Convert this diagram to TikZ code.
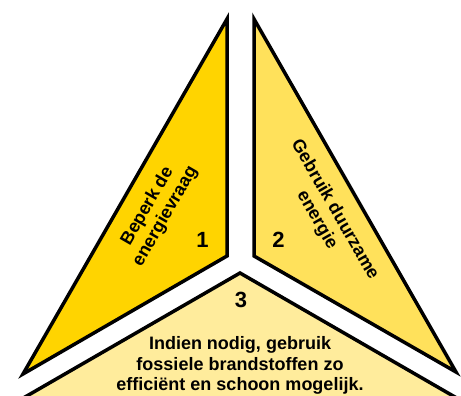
\documentclass[tikz,border=0pt]{standalone}
\usepackage{fontspec}
\setmainfont{Liberation Sans}
\definecolor{pieceA}{HTML}{FFD400}
\definecolor{pieceB}{HTML}{FFE15B}
\definecolor{pieceC}{HTML}{FFEC9C}
\begin{document}
\begin{tikzpicture}[x=1pt,y=-1pt,
  piece/.style={draw=black,line width=3.5pt,line join=miter},
  txt/.style={inner sep=0pt,align=center,font=\bfseries\fontsize{18}{20.5}\selectfont},
  num/.style={inner sep=0pt,font=\bfseries\fontsize{22}{24}\selectfont}]
\useasboundingbox (0,0) rectangle (461,396);
\clip (0,0) rectangle (461,396);
% piece 3 (bottom)
\filldraw[piece,fill=pieceC] (240,273) -- (-20,423) -- (500,423) -- cycle;
% piece 1 (left)
\filldraw[piece,fill=pieceA] (227,19) -- (227,256) -- (23,374) -- cycle;
% piece 2 (right)
\filldraw[piece,fill=pieceB] (254,19) -- (254,256) -- (456,372) -- cycle;
% texts
\node[txt,rotate=60] (t1) at (156.6,211.3) {Beperk de\\energievraag};
\node[txt,rotate=-60] (t2) at (325.8,215) {Gebruik duurzame\\energie};
\node[txt] (t3) at (240,365.5) {Indien nodig, gebruik\\fossiele brandstoffen zo\\efficiënt en schoon mogelijk.};
\node[num] (n1) at (202.5,240) {1};
\node[num] (n2) at (278.5,239.5) {2};
\node[num] (n3) at (241,300) {3};
\end{tikzpicture}
\end{document}
